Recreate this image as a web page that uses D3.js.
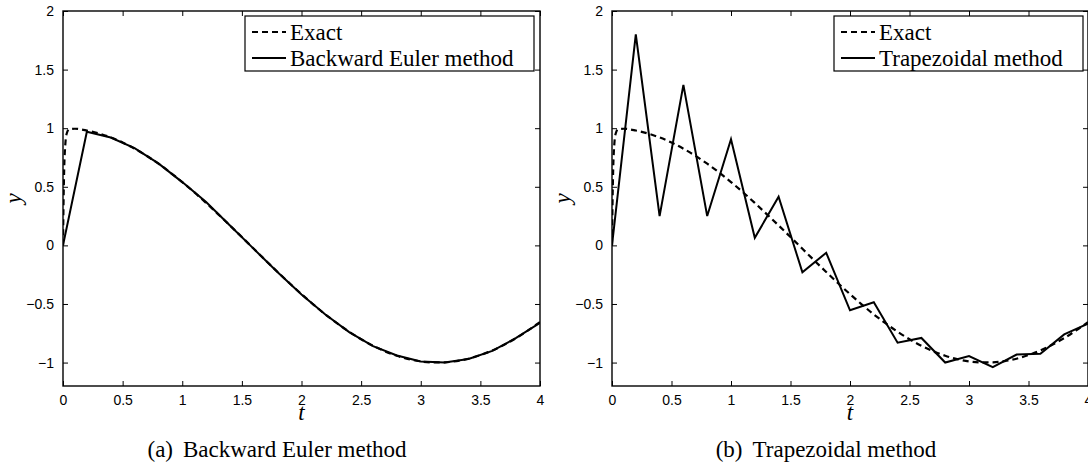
<!DOCTYPE html>
<html>
<head>
<meta charset="utf-8">
<script src="https://cdn.jsdelivr.net/npm/d3@7"></script>
<style>
	body { margin: 0; background: #fff; }
	svg { display: block; }
	.tick text { font-family: "Liberation Sans", Arial, sans-serif; font-size: 14px; fill: #000; }
	.serif { font-family: "Liberation Serif", "Times New Roman", serif; fill: #000; }
</style>
</head>
<body>
<svg width="1088" height="465"></svg>
<script>
// exact solution
var exactT = [0, 0.005, 0.01, 0.02, 0.03, 0.05, 0.1, 0.2, 0.3, 0.4, 0.5, 0.6, 0.7, 0.8, 0.9, 1.0,
	1.1, 1.2, 1.3, 1.4, 1.5, 1.6, 1.7, 1.8, 1.9, 2.0, 2.1, 2.2, 2.3, 2.4, 2.5,
	2.6, 2.7, 2.8, 2.9, 3.0, 3.1, 3.2, 3.3, 3.4, 3.5, 3.6, 3.7, 3.8, 3.9, 4.0];
var exactY = [0, 0.40, 0.65, 0.87, 0.95, 0.99, 0.995, 0.98, 0.955, 0.921, 0.878, 0.825, 0.765, 0.697, 0.622, 0.540,
	0.454, 0.362, 0.267, 0.170, 0.071, -0.029, -0.129, -0.227, -0.323, -0.416, -0.505, -0.589, -0.666, -0.737, -0.801,
	-0.857, -0.904, -0.942, -0.971, -0.990, -0.999, -0.998, -0.987, -0.967, -0.936, -0.897, -0.848, -0.791, -0.726, -0.654];

// step h = 0.2
var stepT = [0, 0.2, 0.4, 0.6, 0.8, 1.0, 1.2, 1.4, 1.6, 1.8, 2.0, 2.2, 2.4, 2.6, 2.8, 3.0, 3.2, 3.4, 3.6, 3.8, 4.0];
var eulerY = [0, 0.97, 0.92, 0.83, 0.70, 0.54, 0.37, 0.17, -0.03, -0.23, -0.42, -0.59, -0.74, -0.86, -0.94, -0.99, -1.00, -0.97, -0.90, -0.79, -0.66];
var trapY = [0, 1.80, 0.25, 1.37, 0.25, 0.905, 0.065, 0.415, -0.23, -0.063, -0.554, -0.486, -0.83, -0.79, -1.00, -0.944, -1.04, -0.932, -0.924, -0.76, -0.667];

var xTicks = [0, 0.5, 1, 1.5, 2, 2.5, 3, 3.5, 4];
var yTicks = [-1, -0.5, 0, 0.5, 1, 1.5, 2];

var panels = [
	{left: 63, width: 477, method: "Backward Euler method", ys: eulerY, caption: "(a)", legendX: 245, legendW: 289, capX: 277},
	{left: 612, width: 476, method: "Trapezoidal method", ys: trapY, caption: "(b)", legendX: 834, legendW: 249, capX: 826}
];

var plotTop = 11, plotH = 375;
var svg = d3.select("svg");
var fmt = function(d){ return d < 0 ? "\u2212" + Math.abs(d) : String(d); };

panels.forEach(function(p){
	var x = d3.scaleLinear().domain([0, 4]).range([0, p.width]);
	var y = d3.scaleLinear().domain([-1.2, 2]).range([plotH, 0]);

	var g = svg.append("g").attr("transform", "translate(" + p.left + "," + plotTop + ")");

	g.append("g")
		.attr("transform", "translate(0," + plotH + ")")
		.call(d3.axisBottom(x).tickValues(xTicks).tickFormat(fmt).tickSizeInner(-5).tickSizeOuter(0).tickPadding(9))
		.call(function(a){ a.select(".domain").remove(); });
	g.append("g")
		.call(d3.axisTop(x).tickValues(xTicks).tickFormat("").tickSizeInner(-5).tickSizeOuter(0))
		.call(function(a){ a.select(".domain").remove(); });
	g.append("g")
		.call(d3.axisLeft(y).tickValues(yTicks).tickFormat(fmt).tickSizeInner(-5).tickSizeOuter(0).tickPadding(9))
		.call(function(a){ a.select(".domain").remove(); });
	g.append("g")
		.attr("transform", "translate(" + p.width + ",0)")
		.call(d3.axisRight(y).tickValues(yTicks).tickFormat("").tickSizeInner(-5).tickSizeOuter(0))
		.call(function(a){ a.select(".domain").remove(); });

	g.selectAll(".tick line").attr("stroke", "#000").attr("stroke-width", 1);

	var clip = "clip" + p.caption.charAt(1);
	g.append("clipPath").attr("id", clip)
		.append("rect").attr("width", p.width).attr("height", plotH);

	var line = d3.line()
		.x(function(d){ return x(d[0]); })
		.y(function(d){ return y(d[1]); });

	var exact = exactT.map(function(t, i){ return [t, exactY[i]]; });
	var approx = stepT.map(function(t, i){ return [t, p.ys[i]]; });

	g.append("path")
		.datum(exact)
		.attr("clip-path", "url(#" + clip + ")")
		.attr("fill", "none")
		.attr("stroke", "#000")
		.attr("stroke-width", 2.2)
		.attr("stroke-dasharray", "6,4")
		.attr("d", line.curve(d3.curveMonotoneX));

	g.append("path")
		.datum(approx)
		.attr("clip-path", "url(#" + clip + ")")
		.attr("fill", "none")
		.attr("stroke", "#000")
		.attr("stroke-width", 2)
		.attr("stroke-linejoin", "miter")
		.attr("d", line.curve(d3.curveLinear));

	g.append("rect")
		.attr("width", p.width)
		.attr("height", plotH)
		.attr("fill", "none")
		.attr("stroke", "#000")
		.attr("stroke-width", 1.4);

	// legend
	var lg = svg.append("g").attr("transform", "translate(" + p.legendX + ",16)");
	lg.append("rect")
		.attr("width", p.legendW)
		.attr("height", 55)
		.attr("fill", "#fff")
		.attr("stroke", "#000")
		.attr("stroke-width", 1.2);
	var rows = [{label: "Exact", dash: "6,4"}, {label: p.method, dash: null}];
	rows.forEach(function(r, i){
		var cy = 16 + i * 26;
		lg.append("line")
			.attr("x1", 7).attr("x2", 41)
			.attr("y1", cy).attr("y2", cy)
			.attr("stroke", "#000")
			.attr("stroke-width", 2)
			.attr("stroke-dasharray", r.dash);
		lg.append("text")
			.attr("class", "serif")
			.attr("x", 45)
			.attr("y", cy + 8)
			.style("font-size", "23px")
			.text(r.label);
	});

	// axis labels
	svg.append("text")
		.attr("class", "serif")
		.attr("transform", "translate(" + (p.left - 42) + "," + (plotTop + plotH / 2) + ") rotate(-90)")
		.attr("text-anchor", "middle")
		.style("font-size", "23px")
		.style("font-style", "italic")
		.text("y");
	svg.append("text")
		.attr("class", "serif")
		.attr("x", p.left + x(2))
		.attr("y", 420)
		.attr("text-anchor", "middle")
		.style("font-size", "23px")
		.style("font-style", "italic")
		.text("t");

	var cap = svg.append("text")
		.attr("class", "serif")
		.attr("x", p.capX)
		.attr("y", 457)
		.attr("text-anchor", "middle")
		.style("font-size", "23px");
	cap.append("tspan").text(p.caption);
	cap.append("tspan").attr("dx", 10).text(p.method);
});
</script>
</body>
</html>
